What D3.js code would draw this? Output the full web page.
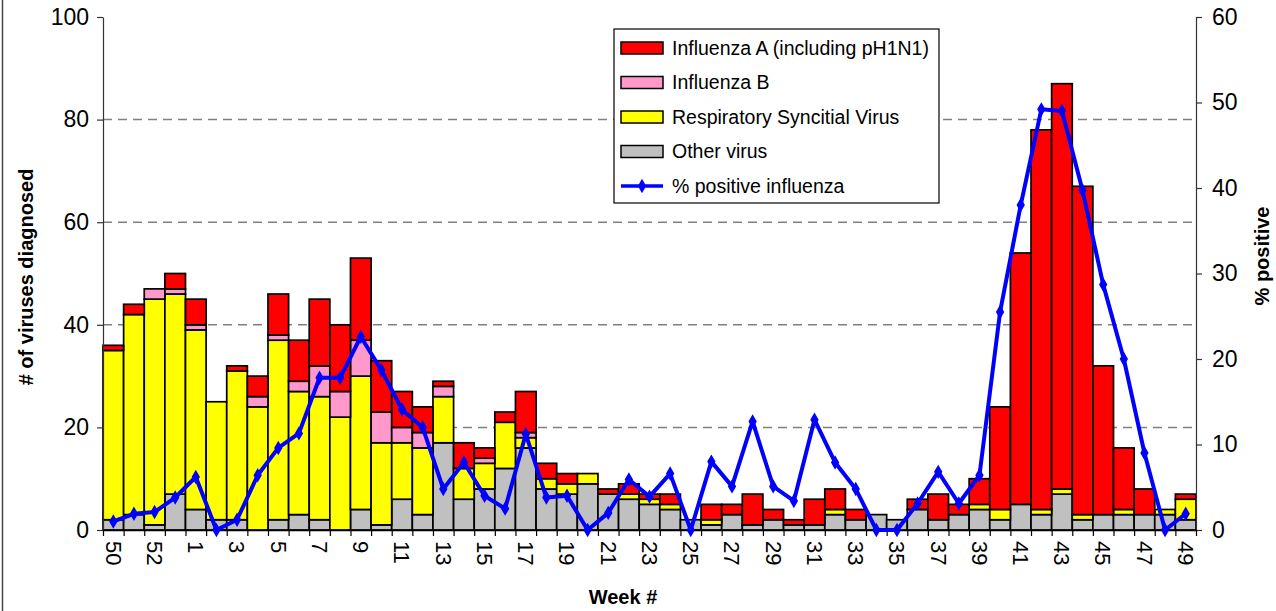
<!DOCTYPE html>
<html>
<head>
<meta charset="utf-8">
<script src="https://cdn.jsdelivr.net/npm/d3@7"></script>
<style>
html,body{margin:0;padding:0;background:#fff;}
svg{display:block;font-family:"Liberation Sans",Arial,sans-serif;}
</style>
</head>
<body>
<svg id="chart" width="1276" height="611"></svg>
<script>
const weeks = ["50","51","52","53","1","2","3","4","5","6","7","8","9","10","11","12","13","14","15","16","17","18","19","20","21","22","23","24","25","26","27","28","29","30","31","32","33","34","35","36","37","38","39","40","41","42","43","44","45","46","47","48","49"];
const otherVirus = [2,3,1,7,4,2,2,0,2,3,2,0,4,1,6,3,17,6,8,12,16,8,7,9,7,6,5,4,2,1,3,1,2,1,1,3,2,3,2,4,2,3,4,2,5,3,7,2,3,3,3,3,2];
const rsv        = [33,39,44,39,35,23,29,24,35,24,24,22,26,16,11,13,9,6,5,9,2,2,2,2,0,1,1,1,0,1,0,0,0,0,0,1,0,0,0,0,0,0,1,2,0,1,1,1,0,1,0,1,4];
const fluB       = [0,0,2,1,1,0,0,2,1,2,6,5,7,6,3,3,2,0,1,0,1,0,0,0,0,0,0,0,0,0,0,0,0,0,0,0,0,0,0,0,0,0,0,0,0,0,0,0,0,0,0,0,0];
const fluA       = [1,2,0,3,5,0,1,4,8,8,13,13,16,10,7,5,1,5,2,2,8,3,2,0,1,2,1,2,0,3,2,6,2,1,5,4,2,0,0,2,5,2,5,20,49,74,79,64,29,12,5,0,1];
const pctPositive = [1.0,1.9,2.1,3.8,6.2,0,1.2,6.4,9.6,11.3,17.8,17.8,22.6,18.7,14.1,12.0,4.8,7.9,4.0,2.5,11.2,3.8,4.0,0,2.0,5.9,3.9,6.6,0,8.0,5.1,12.7,5.1,3.4,12.9,7.9,4.8,0,0,3.1,6.8,3.1,6.4,25.5,38.0,49.2,49.0,39.7,28.7,20.0,9.0,0,1.9];
const leftTicks = [0,20,40,60,80,100];
const rightTicks = [0,10,20,30,40,50,60];
const seriesNames = ["Other virus","Respiratory Syncitial Virus","Influenza B","Influenza A (including pH1N1)"];
const seriesColors = ["#C0C0C0","#FFFF00","#FF99CC","#FF0000"];
const lineName = "% positive influenza";
const lineColor = "#0000FF";

const rows = weeks.map((w,i)=>({week:w, other:otherVirus[i], rsv:rsv[i], fluB:fluB[i], fluA:fluA[i], pct:pctPositive[i]}));
const keys = ["other","rsv","fluB","fluA"];

const svg = d3.select("#chart");
const L = 103, R = 1196, T = 17, B = 530;

const x = d3.scaleBand().domain(weeks).range([L,R]).padding(0);
const xi = d3.scaleLinear().domain([0,weeks.length]).range([L,R]);
const y = d3.scaleLinear().domain([0,100]).range([B,T]);
const y2 = d3.scaleLinear().domain([0,60]).range([B,T]);

// outer border line at left
svg.append("line").attr("x1",2.5).attr("x2",2.5).attr("y1",0).attr("y2",611).attr("stroke","#444").attr("stroke-width",1.5);

// gridlines
svg.append("g").selectAll("line").data(leftTicks.filter(d=>d>0 && d<100)).join("line")
  .attr("x1",L).attr("x2",R).attr("y1",d=>y(d)).attr("y2",d=>y(d))
  .attr("stroke","#808080").attr("stroke-width",1.5).attr("stroke-dasharray","9,6");

// stacked bars
const stack = d3.stack().keys(keys)(rows);
svg.append("g").selectAll("g").data(stack).join("g")
  .attr("fill",(d,i)=>seriesColors[i])
  .selectAll("rect").data(d=>d.filter(p=>p[1]-p[0]>0)).join("rect")
  .attr("x",d=>x(d.data.week)).attr("width",x.bandwidth())
  .attr("y",d=>y(d[1])).attr("height",d=>y(d[0])-y(d[1]))
  .attr("stroke","#000").attr("stroke-width",1.7);

// axes
const fs = "23px";
const gl = svg.append("g").attr("transform",`translate(${L},0)`)
  .call(d3.axisLeft(y).tickValues(leftTicks).tickSize(6).tickPadding(8).tickSizeOuter(0));
gl.select(".domain").attr("stroke","#333").attr("stroke-width",1.2);
gl.selectAll(".tick line").attr("stroke","#333").attr("stroke-width",1.2);
gl.selectAll("text").attr("font-size",fs).attr("fill","#000");

const gr = svg.append("g").attr("transform",`translate(${R},0)`)
  .call(d3.axisRight(y2).tickValues(rightTicks).tickSize(6).tickPadding(10).tickSizeOuter(0));
gr.select(".domain").attr("stroke","#333").attr("stroke-width",1.2);
gr.selectAll(".tick line").attr("stroke","#333").attr("stroke-width",1.2);
gr.selectAll("text").attr("font-size",fs).attr("fill","#000");

const gb = svg.append("g").attr("transform",`translate(0,${B})`)
  .call(d3.axisBottom(xi).tickValues(d3.range(0,weeks.length+1)).tickSize(6).tickFormat("").tickSizeOuter(0));
gb.select(".domain").attr("stroke","#000").attr("stroke-width",1.5);
gb.selectAll(".tick line").attr("stroke","#000").attr("stroke-width",1.2);

// x labels every other week
svg.append("g").selectAll("text").data(weeks.filter((w,i)=>i%2===0)).join("text")
  .attr("transform",d=>`translate(${x(d)+x.bandwidth()/2},${B+11}) rotate(90)`)
  .attr("dy","0.35em").attr("text-anchor","start").attr("font-size","22px").text(d=>d);

// line
const line = d3.line().x(d=>x(d.week)+x.bandwidth()/2).y(d=>y2(d.pct));
svg.append("path").datum(rows).attr("d",line).attr("fill","none")
  .attr("stroke",lineColor).attr("stroke-width",4).attr("stroke-linejoin","round");
const diamond = d3.symbol().type(d3.symbolDiamond).size(60);
svg.append("g").selectAll("path").data(rows).join("path")
  .attr("transform",d=>`translate(${x(d.week)+x.bandwidth()/2},${y2(d.pct)})`)
  .attr("d",diamond).attr("fill",lineColor);

// axis titles
svg.append("text").attr("transform","translate(33,277) rotate(-90)").attr("text-anchor","middle")
  .attr("font-size","20px").attr("font-weight","bold").text("# of viruses diagnosed");
svg.append("text").attr("transform","translate(1262,256) rotate(-90)").attr("text-anchor","middle")
  .attr("dy","0.35em").attr("font-size","20px").attr("font-weight","bold").text("% positive");
svg.append("text").attr("x",623).attr("y",604).attr("text-anchor","middle")
  .attr("font-size","20px").attr("font-weight","bold").text("Week #");

// legend
const lg = svg.append("g");
lg.append("rect").attr("x",614).attr("y",29).attr("width",325).attr("height",174)
  .attr("fill","#fff").attr("stroke","#000").attr("stroke-width",1.2);
const legendItems = [3,2,1,0].map(i=>({name:seriesNames[i], color:seriesColors[i]}));
const rowY = d3.scaleLinear().domain([0,4]).range([48,186]);
legendItems.forEach((it,k)=>{
  lg.append("rect").attr("x",621).attr("y",rowY(k)-6).attr("width",42).attr("height",12)
    .attr("fill",it.color).attr("stroke","#000").attr("stroke-width",1.5);
  lg.append("text").attr("x",672).attr("y",rowY(k)).attr("dy","0.35em").attr("font-size","19.5px").text(it.name);
});
lg.append("line").attr("x1",621).attr("x2",663).attr("y1",rowY(4)).attr("y2",rowY(4))
  .attr("stroke",lineColor).attr("stroke-width",3.5);
lg.append("path").attr("transform",`translate(642,${rowY(4)})`).attr("d",diamond).attr("fill",lineColor);
lg.append("text").attr("x",672).attr("y",rowY(4)).attr("dy","0.35em").attr("font-size","19.5px").text(lineName);
</script>
</body>
</html>
